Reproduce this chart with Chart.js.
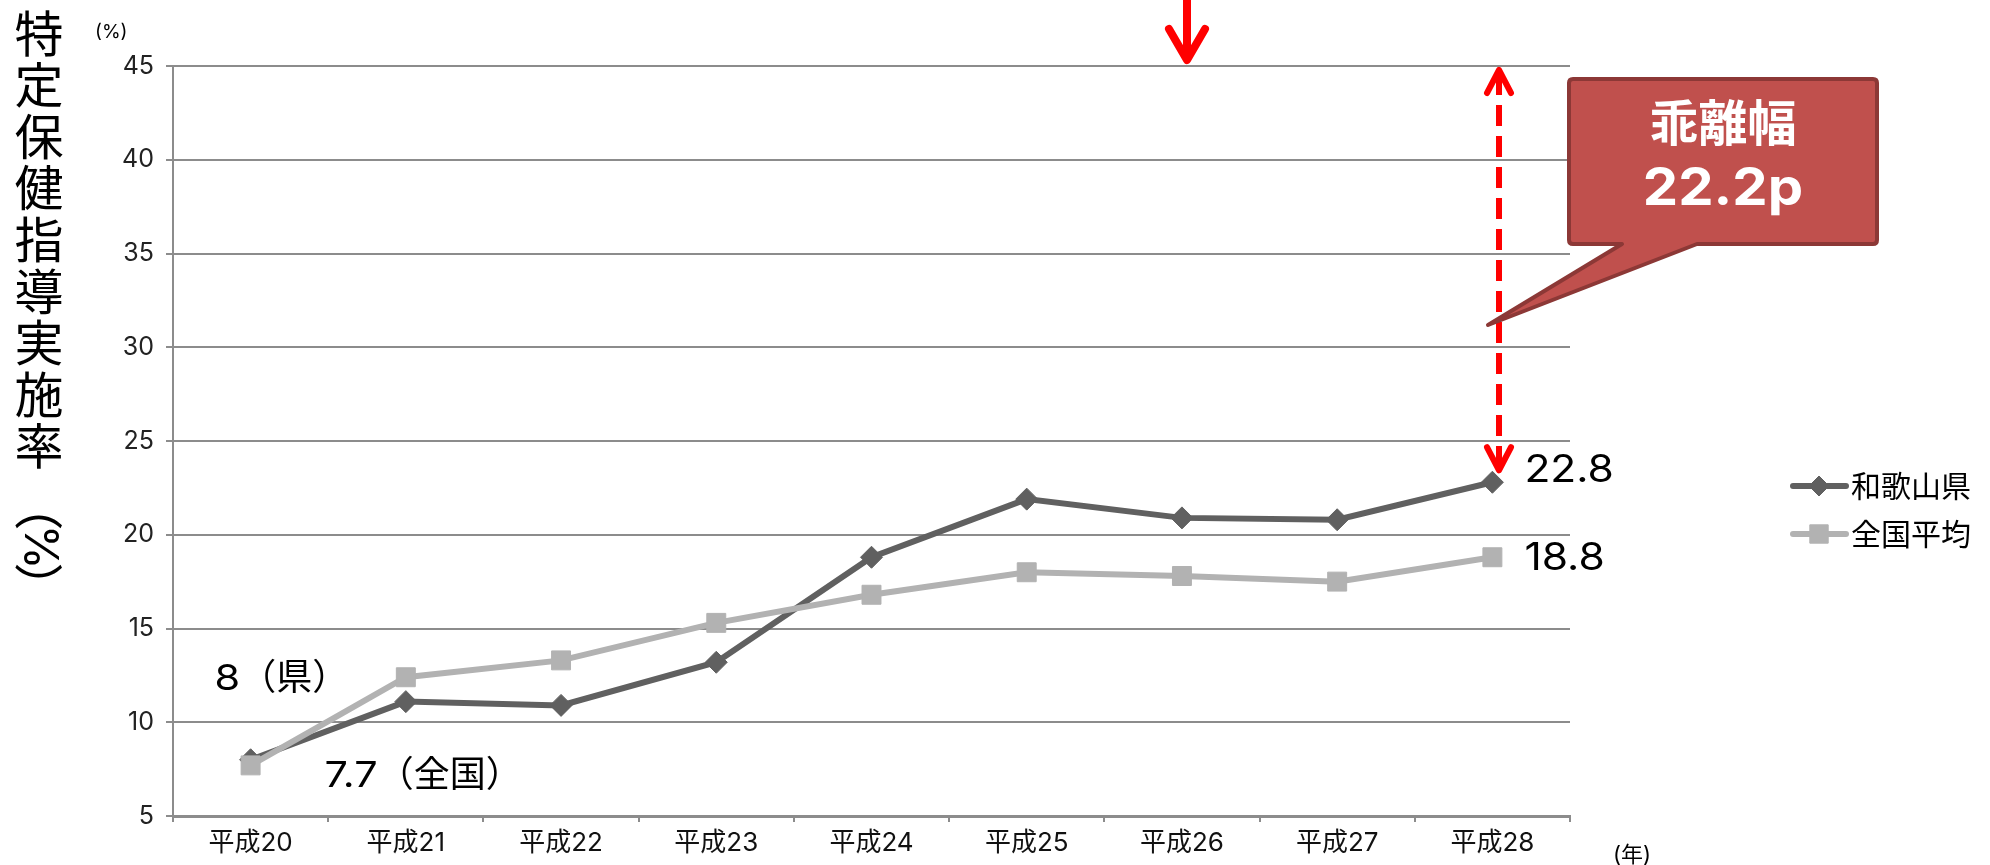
<!DOCTYPE html>
<html lang="ja">
<head>
<meta charset="utf-8">
<title>特定保健指導実施率の推移</title>
<script src="https://cdn.jsdelivr.net/npm/chart.js@4/dist/chart.umd.min.js"></script>
<style>
  html, body { margin: 0; padding: 0; background: #ffffff; }
  #chart { display: block; }
</style>
</head>
<body>
<canvas id="chart" width="1990" height="865"></canvas>
<script>
// ---- data ----
const categories = ['平成20', '平成21', '平成22', '平成23', '平成24', '平成25', '平成26', '平成27', '平成28'];
const wakayama = [8.0, 11.1, 10.9, 13.2, 18.8, 21.9, 20.9, 20.8, 22.8];
const national = [7.7, 12.4, 13.3, 15.3, 16.8, 18.0, 17.8, 17.5, 18.8];
const seriesNames = ['和歌山県', '全国平均'];
const yTicks = [5, 10, 15, 20, 25, 30, 35, 40, 45];
const targetRate = 45;
const titleChars = '特定保健指導実施率';
const yUnit = '(%)';
const xUnit = '(年)';
const calloutTitle = '乖離幅';

// ---- styling ----
const DARK = '#606060';
const LIGHT = '#b2b2b2';
const GRID = '#8c8c8c';
const RED = '#ff0000';
const LATIN = 'Inter, "Liberation Sans", sans-serif';
const CJK = '"Noto Sans CJK JP", sans-serif';

// Draws a string made of latin and CJK runs; latin runs may be widened by sx.
function drawMixed(ctx, text, x, y, size, o = {}) {
  const weight = o.bold ? 'bold ' : '';
  const sx = o.sx || 1;
  ctx.save();
  ctx.fillStyle = o.color || '#000';
  ctx.textBaseline = 'alphabetic';
  ctx.textAlign = 'left';
  const runs = text.match(/[\x00-\x7f]+|[^\x00-\x7f]+/g) || [];
  const parts = runs.map(r => {
    const latin = /^[\x00-\x7f]/.test(r);
    const font = weight + size + 'px ' + (latin ? LATIN : CJK);
    ctx.font = font;
    const w = ctx.measureText(r).width * (latin ? sx : 1);
    return { r, latin, font, w };
  });
  const total = parts.reduce((a, p) => a + p.w, 0);
  let cx = o.align === 'center' ? x - total / 2 : (o.align === 'right' ? x - total : x);
  for (const p of parts) {
    ctx.font = p.font;
    ctx.save();
    ctx.translate(cx, y);
    if (p.latin) ctx.scale(sx, 1);
    ctx.fillText(p.r, 0, 0);
    ctx.restore();
    cx += p.w;
  }
  ctx.restore();
}

function fmt(v) { return String(Math.round(v * 10) / 10); }

function marker(ctx, style, r, x, y, color) {
  ctx.save();
  ctx.fillStyle = color;
  ctx.strokeStyle = color;
  ctx.lineWidth = 1;
  if (window.Chart && Chart.helpers && Chart.helpers.drawPoint) {
    Chart.helpers.drawPoint(ctx, { pointStyle: style, radius: r, rotation: 0, borderWidth: 1 }, x, y);
  } else {
    ctx.beginPath();
    if (style === 'rectRot') {
      ctx.moveTo(x, y - r); ctx.lineTo(x + r, y); ctx.lineTo(x, y + r); ctx.lineTo(x - r, y);
    } else {
      const s = Math.SQRT1_2 * r;
      ctx.rect(x - s, y - s, 2 * s, 2 * s);
    }
    ctx.closePath(); ctx.fill();
  }
  ctx.restore();
}

function arrowHead(ctx, x, y, dir, halfW, len) {
  ctx.beginPath();
  ctx.moveTo(x - halfW, y - dir * len);
  ctx.lineTo(x, y);
  ctx.lineTo(x + halfW, y - dir * len);
  ctx.stroke();
}

const overlay = {
  id: 'overlay',
  afterDraw(chart) {
    const ctx = chart.ctx;
    const ys = chart.scales.y;
    const m0 = chart.getDatasetMeta(0).data;
    const m1 = chart.getDatasetMeta(1).data;
    const last = wakayama.length - 1;

    // vertical axis title
    ctx.save();
    ctx.fillStyle = '#000';
    ctx.font = '49px ' + CJK;
    ctx.textAlign = 'center';
    ctx.textBaseline = 'middle';
    for (let i = 0; i < titleChars.length; i++) {
      ctx.fillText(titleChars[i], 39, 33 + i * 51.6);
    }
    const rot = [['（', 506], ['%', 547], ['）', 587]];
    for (const [ch, cy] of rot) {
      ctx.save();
      ctx.translate(39, cy);
      ctx.rotate(Math.PI / 2);
      ctx.font = (ch === '%' ? '46px ' + LATIN : '49px ' + CJK);
      ctx.fillText(ch, 0, 0);
      ctx.restore();
    }
    ctx.restore();

    // unit labels
    drawMixed(ctx, yUnit, 95, 38, 19);
    drawMixed(ctx, xUnit, 1613, 862, 22);

    // value labels
    drawMixed(ctx, fmt(wakayama[last]), m0[last].x + 32, m0[last].y, 38, { sx: 1.12 });
    drawMixed(ctx, fmt(national[last]), m1[last].x + 32, m1[last].y + 13, 38, { sx: 1.12 });
    drawMixed(ctx, fmt(wakayama[0]) + '（県）', m0[0].x - 36, m0[0].y - 70, 36, { sx: 1.15 });
    drawMixed(ctx, fmt(national[0]) + '（全国）', m1[0].x + 74, m1[0].y + 22, 36, { sx: 1.15 });

    // red arrow at the top
    ctx.save();
    ctx.strokeStyle = RED;
    ctx.lineCap = 'round';
    ctx.lineJoin = 'round';
    ctx.lineWidth = 8;
    ctx.beginPath();
    ctx.moveTo(1187, -5);
    ctx.lineTo(1187, 56);
    ctx.stroke();
    arrowHead(ctx, 1187, 60, 1, 18, 31);
    ctx.restore();

    // dashed double arrow: target level down to the latest prefecture value
    const ax = 1499;
    const yTop = ys.getPixelForValue(targetRate) + 4;
    const yBot = ys.getPixelForValue(wakayama[last]) - 12;
    ctx.save();
    ctx.strokeStyle = RED;
    ctx.lineWidth = 6;
    ctx.setLineDash([21, 10]);
    ctx.beginPath();
    ctx.moveTo(ax, yTop + 4);
    ctx.lineTo(ax, yBot - 4);
    ctx.stroke();
    ctx.setLineDash([]);
    ctx.lineCap = 'round';
    ctx.lineJoin = 'round';
    arrowHead(ctx, ax, yTop, -1, 12, 23);
    arrowHead(ctx, ax, yBot, 1, 12, 23);
    ctx.restore();

    // callout
    const L = 1569, T = 79, R = 1877, B = 244, rr = 4;
    ctx.save();
    ctx.beginPath();
    ctx.moveTo(L + rr, T);
    ctx.lineTo(R - rr, T);
    ctx.quadraticCurveTo(R, T, R, T + rr);
    ctx.lineTo(R, B - rr);
    ctx.quadraticCurveTo(R, B, R - rr, B);
    ctx.lineTo(1697, B);
    ctx.lineTo(1488, 325);
    ctx.lineTo(1622, B);
    ctx.lineTo(L + rr, B);
    ctx.quadraticCurveTo(L, B, L, B - rr);
    ctx.lineTo(L, T + rr);
    ctx.quadraticCurveTo(L, T, L + rr, T);
    ctx.closePath();
    ctx.fillStyle = '#c0504d';
    ctx.fill();
    ctx.lineWidth = 4;
    ctx.lineJoin = 'round';
    ctx.strokeStyle = '#8c3836';
    ctx.stroke();
    ctx.restore();
    drawMixed(ctx, calloutTitle, 1723, 141, 49, { bold: true, color: '#ffffff', align: 'center' });
    drawMixed(ctx, fmt(targetRate - wakayama[last]) + 'p', 1723, 205, 52, { bold: true, color: '#ffffff', align: 'center', sx: 1.08 });

    // legend
    const legend = [
      { name: seriesNames[0], color: DARK, style: 'rectRot', r: 10, y: 486 },
      { name: seriesNames[1], color: LIGHT, style: 'rect', r: 13, y: 534 }
    ];
    for (const it of legend) {
      ctx.save();
      ctx.strokeStyle = it.color;
      ctx.lineWidth = 6;
      ctx.lineCap = 'round';
      ctx.beginPath();
      ctx.moveTo(1793, it.y);
      ctx.lineTo(1846, it.y);
      ctx.stroke();
      ctx.restore();
      marker(ctx, it.style, it.r, 1819, it.y, it.color);
      drawMixed(ctx, it.name, 1851, it.y + 11, 30);
    }
  }
};

new Chart(document.getElementById('chart'), {
  type: 'line',
  data: {
    labels: categories,
    datasets: [
      {
        label: seriesNames[0],
        data: wakayama,
        borderColor: DARK,
        backgroundColor: DARK,
        borderWidth: 6,
        pointStyle: 'rectRot',
        pointRadius: 11,
        pointBorderWidth: 1,
        pointBackgroundColor: DARK,
        pointBorderColor: DARK,
        tension: 0,
        order: 1
      },
      {
        label: seriesNames[1],
        data: national,
        borderColor: LIGHT,
        backgroundColor: LIGHT,
        borderWidth: 6,
        pointStyle: 'rect',
        pointRadius: 13.4,
        pointBorderWidth: 1,
        pointBackgroundColor: LIGHT,
        pointBorderColor: LIGHT,
        tension: 0,
        order: 0
      }
    ]
  },
  options: {
    responsive: false,
    animation: false,
    devicePixelRatio: 1,
    layout: { padding: { left: 0, right: 420, top: 66, bottom: 0 } },
    plugins: {
      legend: { display: false },
      tooltip: { enabled: false },
      title: { display: false }
    },
    scales: {
      x: {
        type: 'category',
        offset: true,
        grid: { display: true, drawOnChartArea: false, drawTicks: true, tickLength: 6, color: GRID, lineWidth: 2, offset: true },
        border: { display: true, color: GRID, width: 3 },
        ticks: { color: '#111', font: { family: 'Inter, "Noto Sans CJK JP", sans-serif', size: 26 }, padding: 6, maxRotation: 0, autoSkip: false },
        afterFit: s => { s.height = 49; }
      },
      y: {
        min: yTicks[0],
        max: yTicks[yTicks.length - 1],
        ticks: { stepSize: yTicks[1] - yTicks[0], color: '#222', font: { family: 'Inter, sans-serif', size: 25 }, padding: 12 },
        grid: { color: GRID, lineWidth: 2, tickLength: 7, drawTicks: true },
        border: { display: true, color: GRID, width: 2 },
        afterFit: s => { s.width = 173; }
      }
    }
  },
  plugins: [overlay]
});
</script>
</body>
</html>
